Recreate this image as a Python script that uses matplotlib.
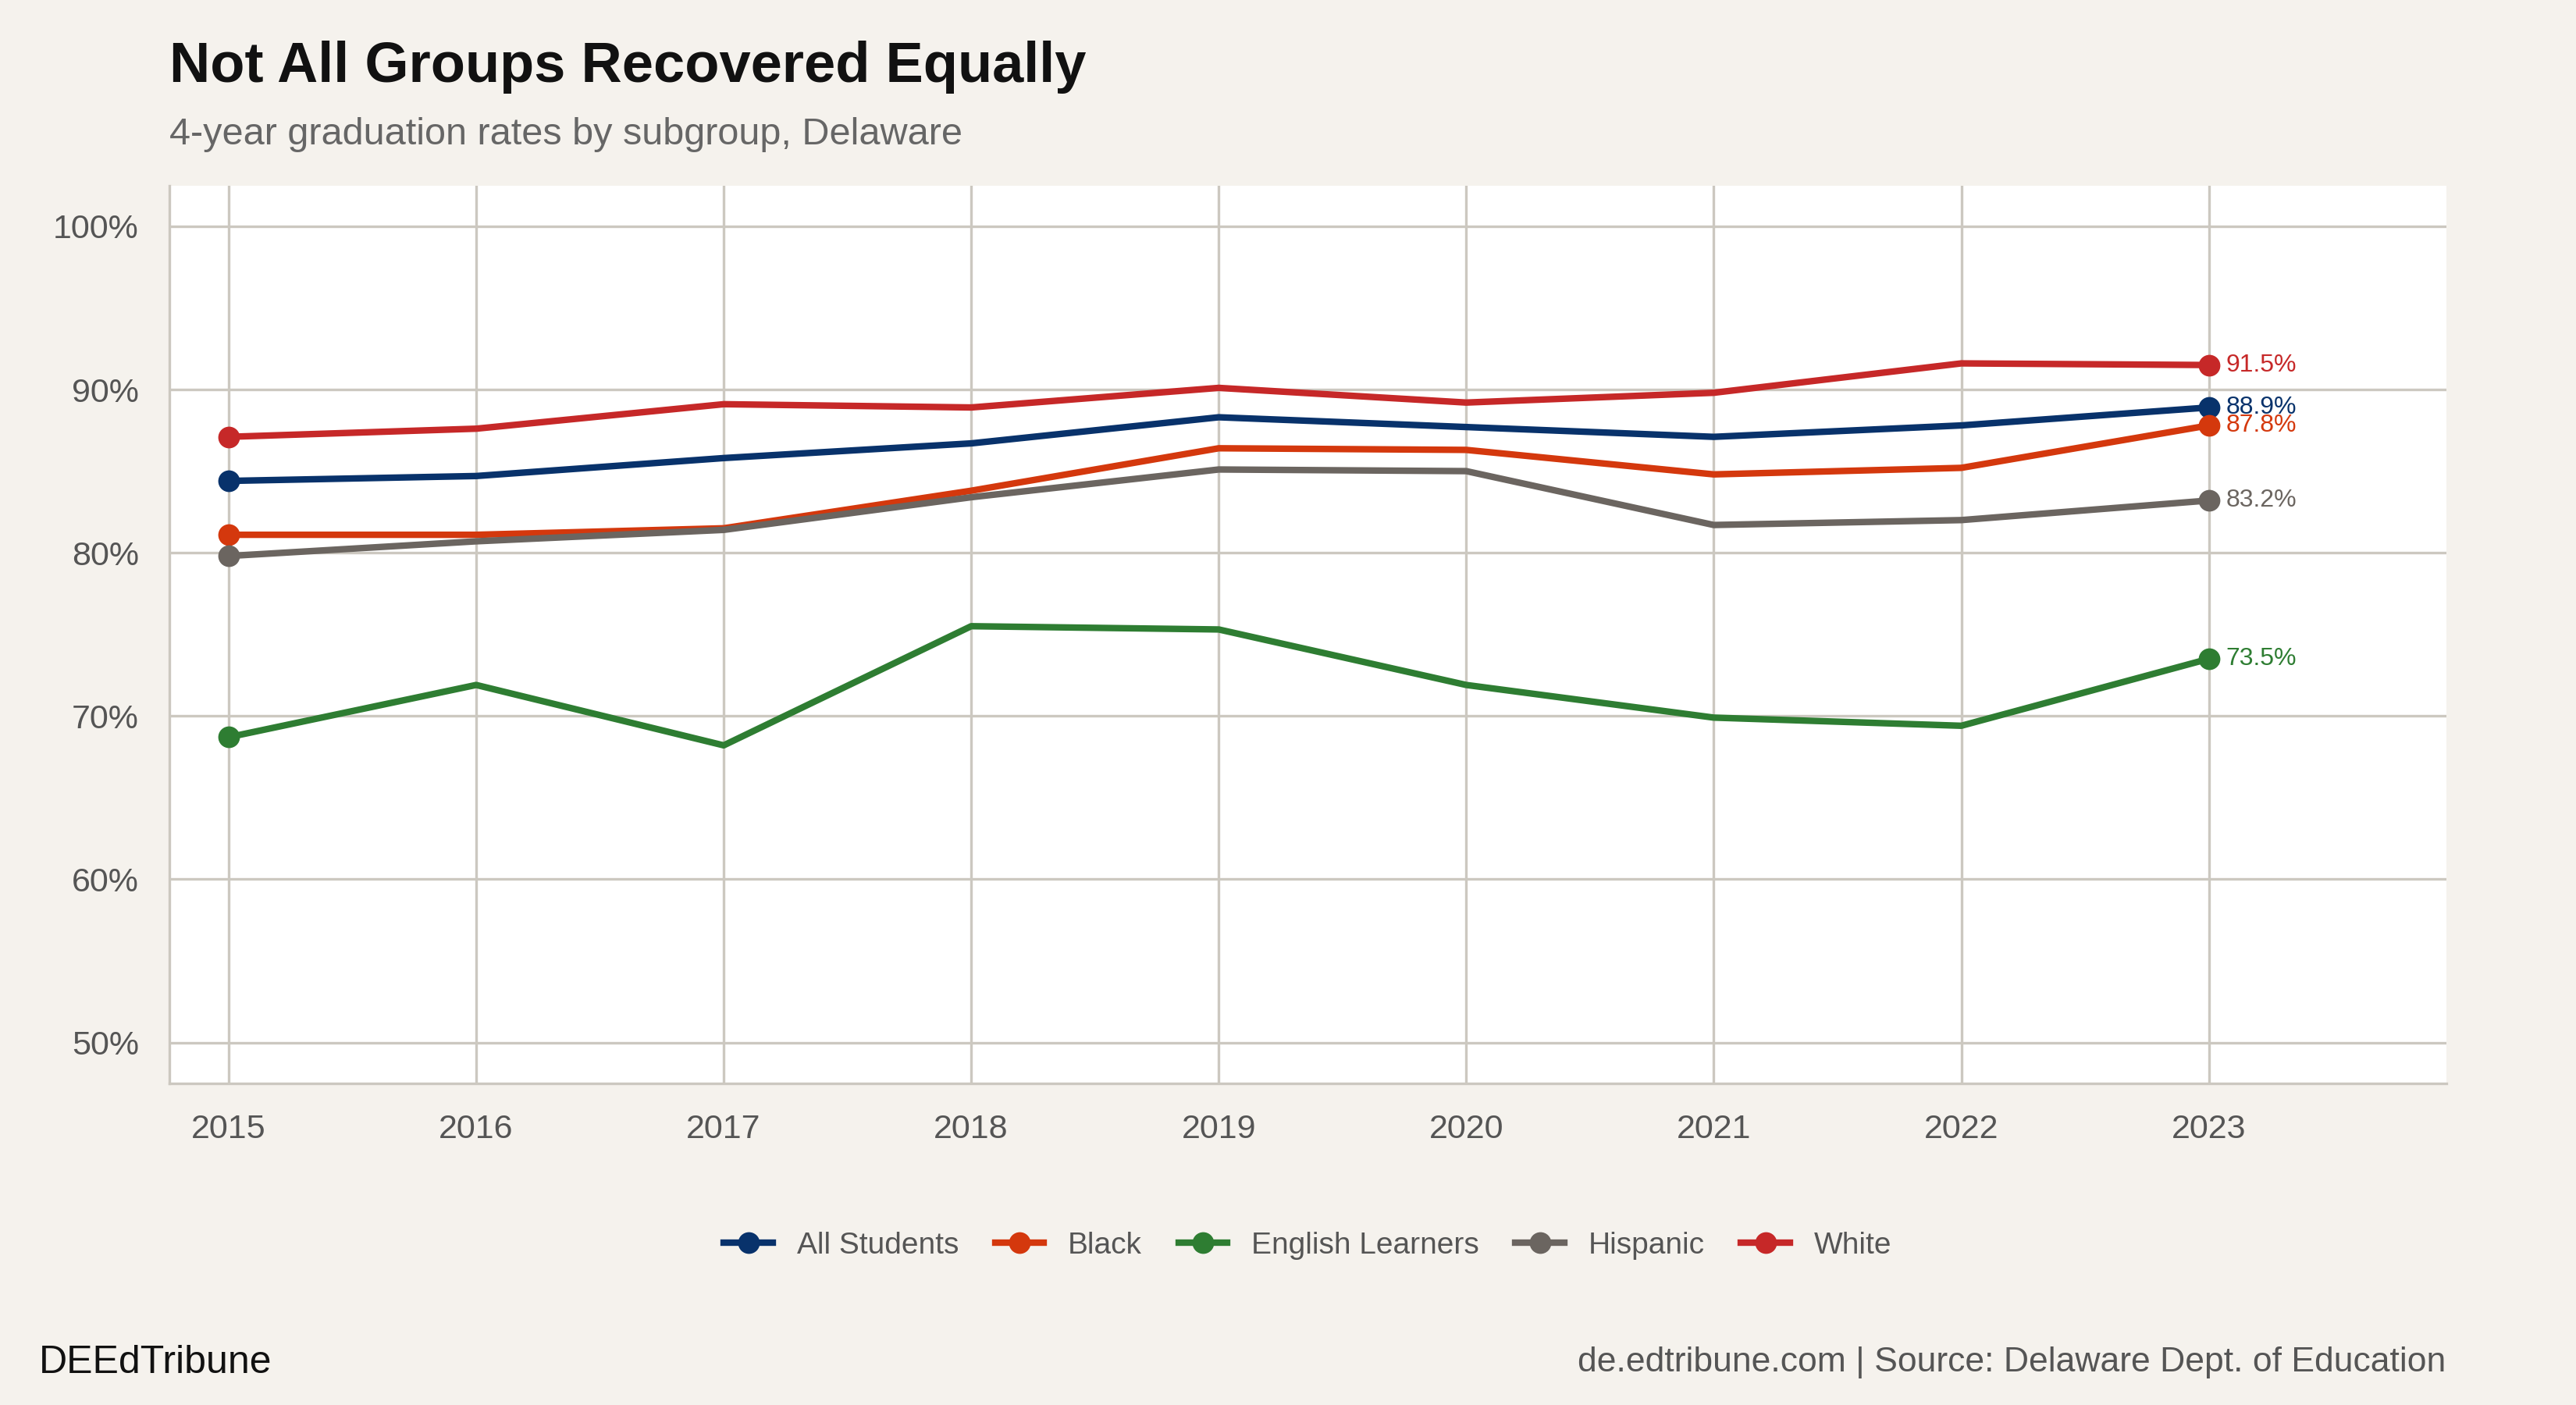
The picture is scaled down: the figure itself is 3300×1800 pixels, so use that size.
import matplotlib.pyplot as plt
from matplotlib.ticker import FuncFormatter

plt.rcParams['font.family'] = ['Liberation Sans', 'DejaVu Sans']

years = [2015, 2016, 2017, 2018, 2019, 2020, 2021, 2022, 2023]
all_students = [84.4, 84.7, 85.8, 86.7, 88.3, 87.7, 87.1, 87.8, 88.9]
black = [81.1, 81.1, 81.5, 83.8, 86.4, 86.3, 84.8, 85.2, 87.8]
english_learners = [68.7, 71.9, 68.2, 75.5, 75.3, 71.9, 69.9, 69.4, 73.5]
hispanic = [79.8, 80.7, 81.4, 83.4, 85.1, 85.0, 81.7, 82.0, 83.2]
white = [87.1, 87.6, 89.1, 88.9, 90.1, 89.2, 89.8, 91.6, 91.5]

series = [
    ("All Students", all_students, "#08326b"),
    ("Black", black, "#d4380d"),
    ("English Learners", english_learners, "#2e7d32"),
    ("Hispanic", hispanic, "#6b6560"),
    ("White", white, "#c62828"),
]

bg = "#f5f2ed"
fig = plt.figure(figsize=(16.5, 9), dpi=200, facecolor=bg)
ax = fig.add_axes([0.0657, 0.229, 0.884, 0.639])
ax.set_facecolor("white")

for name, vals, col in series:
    ax.plot(years, vals, color=col, lw=3, label=name, zorder=3,
            marker="o", markersize=9, markevery=[0, len(vals) - 1])
    ax.text(years[-1] + 0.07, vals[-1], f"{vals[-1]:.1f}%", color=col,
            fontsize=11.5, va="center", ha="left", zorder=4)

ax.set_xlim(2014.76, 2023.96)
ax.set_ylim(47.5, 102.5)
ax.set_xticks(years)
ax.set_yticks([50, 60, 70, 80, 90, 100])
ax.yaxis.set_major_formatter(FuncFormatter(lambda v, p: f"{v:.0f}%"))
ax.grid(True, color="#ccc8c0", lw=1.2, zorder=0)
for s in ["top", "right"]:
    ax.spines[s].set_visible(False)
for s in ["left", "bottom"]:
    ax.spines[s].set_color("#ccc8c0")
    ax.spines[s].set_linewidth(1.2)
ax.tick_params(length=0, labelsize=15.5, colors="#555555", pad=14)

ax.legend(loc="upper center", bbox_to_anchor=(0.5, -0.135), ncol=5, frameon=False,
          fontsize=14, labelcolor="#555555", handlelength=1.6, columnspacing=1.2)

fig.text(0.0657, 0.952, "Not All Groups Recovered Equally", fontsize=26,
         fontweight="bold", va="center", color="#111111")
fig.text(0.0657, 0.904, "4-year graduation rates by subgroup, Delaware", fontsize=17.5,
         va="center", color="#666666")
fig.text(0.015, 0.030, "DEEdTribune", fontsize=18, va="center", color="#111111")
fig.text(0.9496, 0.030, "de.edtribune.com | Source: Delaware Dept. of Education",
         fontsize=16, va="center", ha="right", color="#555555")

fig.savefig("out.png", dpi=200, facecolor=bg)
